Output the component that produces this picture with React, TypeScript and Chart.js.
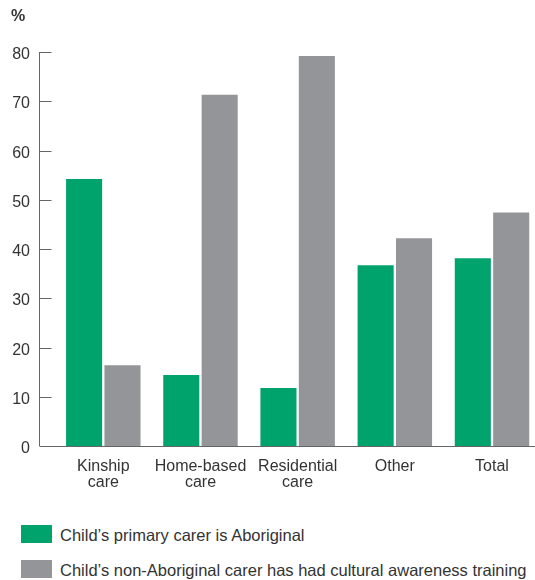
import React, { useEffect, useRef } from "react";
import { Chart, registerables } from "chart.js";

Chart.register(...registerables);

const categories: (string | string[])[] = [
  ["Kinship", "care"],
  ["Home-based", "care"],
  ["Residential", "care"],
  "Other",
  "Total",
];
const aboriginalCarer = [54.2, 14.4, 11.8, 36.7, 38.1];
const trainedCarer = [16.4, 71.3, 79.2, 42.2, 47.4];
const seriesLabels = [
  "Child’s primary carer is Aboriginal",
  "Child’s non-Aboriginal carer has had cultural awareness training",
];
const yTicks = [0, 10, 20, 30, 40, 50, 60, 70, 80];

const GREEN = "#00a36c";
const GRAY = "#939598";
const TEXT = "#333333";
const AXIS = "#666666";
const FONT = "'Liberation Sans', Arial, Helvetica, sans-serif";

const W = 535;
const H = 500;
const AXIS_X = 39.5;

const axisPlugin = {
  id: "customAxes",
  afterDraw(chart: any) {
    const { ctx, chartArea, scales } = chart;
    const y = scales.y;
    ctx.save();
    ctx.strokeStyle = AXIS;
    ctx.lineWidth = 1;
    ctx.beginPath();
    ctx.moveTo(AXIS_X, y.getPixelForValue(80));
    ctx.lineTo(AXIS_X, chartArea.bottom);
    ctx.stroke();
    ctx.fillStyle = TEXT;
    ctx.font = `16px ${FONT}`;
    ctx.textAlign = "right";
    ctx.textBaseline = "middle";
    yTicks.forEach((v) => {
      const py = Math.round(y.getPixelForValue(v)) + 0.5;
      ctx.fillText(String(v), 30, py + 2);
      if (v === 0) return;
      ctx.beginPath();
      ctx.moveTo(AXIS_X, py);
      ctx.lineTo(AXIS_X + 12, py);
      ctx.stroke();
    });
    const by = Math.round(chartArea.bottom) + 0.5;
    ctx.beginPath();
    ctx.moveTo(AXIS_X, by);
    ctx.lineTo(W, by);
    ctx.stroke();
    ctx.font = `bold 16px ${FONT}`;
    ctx.textAlign = "left";
    ctx.textBaseline = "alphabetic";
    ctx.fillText("%", 11, 21);
    ctx.restore();
  },
};

export default function App() {
  const ref = useRef<HTMLCanvasElement>(null);
  useEffect(() => {
    if (!ref.current) return;
    const chart = new Chart(ref.current, {
      type: "bar",
      data: {
        labels: categories,
        datasets: [
          {
            label: seriesLabels[0],
            data: aboriginalCarer,
            backgroundColor: GREEN,
            clip: false as any,
            categoryPercentage: 0.79,
            barPercentage: 0.94,
          },
          {
            label: seriesLabels[1],
            data: trainedCarer,
            backgroundColor: GRAY,
            clip: false as any,
            categoryPercentage: 0.79,
            barPercentage: 0.94,
          },
        ],
      },
      options: {
        responsive: false,
        animation: false,
        devicePixelRatio: 1,
        layout: { padding: { top: 52, right: 43, bottom: 0, left: 0 } },
        plugins: { legend: { display: false }, tooltip: { enabled: false } },
        scales: {
          x: {
            type: "category",
            offset: false,
            grid: { display: false, drawTicks: false },
            border: { display: false },
            ticks: {
              color: TEXT,
              font: { family: FONT, size: 16, lineHeight: 1 },
              padding: 13,
              maxRotation: 0,
              autoSkip: false,
            },
            afterFit(scale: any) {
              scale.height = H - 446;
            },
          },
          y: {
            min: 0,
            max: 80,
            grid: { display: false, drawTicks: false },
            border: { display: false },
            ticks: { display: false, stepSize: 10 },
            afterFit(scale: any) {
              scale.width = 103.3;
            },
          },
        },
      },
      plugins: [axisPlugin],
    });
    return () => chart.destroy();
  }, []);

  const legendRow = (color: string, label: string, top: number) => (
    <div key={label}>
      <div
        style={{
          position: "absolute",
          left: 21,
          top,
          width: 31,
          height: 18,
          background: color,
        }}
      />
      <div
        style={{
          position: "absolute",
          left: 60,
          top: top + 1,
          fontFamily: FONT,
          fontSize: 16.5,
          lineHeight: "18px",
          color: TEXT,
          whiteSpace: "nowrap",
        }}
      >
        {label}
      </div>
    </div>
  );

  return (
    <div
      style={{
        position: "absolute",
        left: 0,
        top: 0,
        width: W,
        height: 580,
        background: "#fff",
        overflow: "hidden",
      }}
    >
      <canvas ref={ref} width={W} height={H} style={{ display: "block" }} />
      {legendRow(GREEN, seriesLabels[0], 525)}
      {legendRow(GRAY, seriesLabels[1], 560)}
    </div>
  );
}
